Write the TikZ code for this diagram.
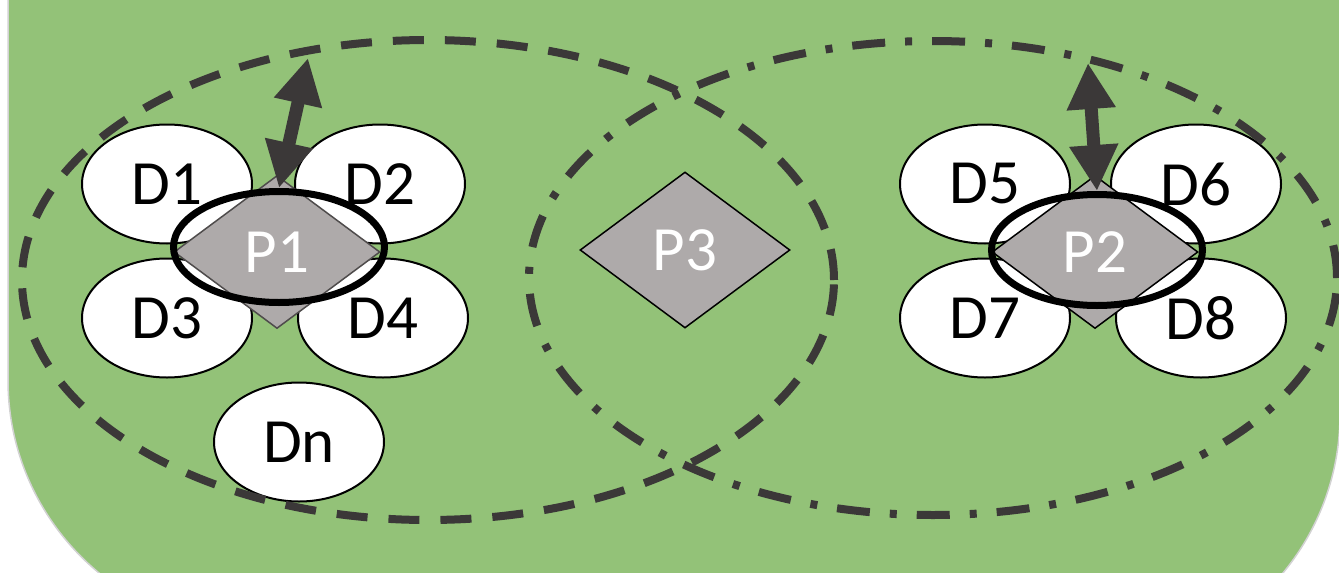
\documentclass[tikz,border=0pt]{standalone}
\usepackage{fontspec}
\setmainfont{Carlito}
\usetikzlibrary{shapes.geometric}
\usetikzlibrary{arrows.meta}

\definecolor{bggreen}{RGB}{147,194,120}
\definecolor{edgegray}{RGB}{59,56,56}
\definecolor{pgray}{RGB}{174,170,170}

\begin{document}
\begin{tikzpicture}[x=1pt,y=-1pt,>/.tip={Triangle[length=46pt,width=46pt]},
	dev/.style={draw,shape=ellipse,fill=white,line width=2pt,minimum width=170pt,minimum height=119pt,inner sep=0pt,font=\fontsize{63pt}{75pt}\selectfont},
	proc/.style={draw,shape=diamond,fill=pgray,line width=1.5pt,minimum width=206pt,minimum height=153pt,inner sep=0pt,text=white,font=\fontsize{63pt}{75pt}\selectfont},
	ring/.style={draw,shape=ellipse,line width=7pt,minimum width=211pt,minimum height=111pt,inner sep=0pt},
	link/.style={<->,line width=13pt,draw=edgegray,fill=edgegray},
	zone/.style={draw=edgegray,line width=8pt}]
	\useasboundingbox (0,0) rectangle (1339,573);
	% background
	\path[fill=bggreen,draw=gray!35,line width=1.5pt] (8,-20) -- (8,380) arc[start angle=180,end angle=270,radius=250pt]
		-- (1090,664) arc[start angle=270,end angle=360,radius=250pt] -- (1340,-20) -- cycle;

	% left group
	\node (d1) [dev] at (167,184) {D1};
	\node (d2) [dev] at (380,184) {D2};
	\node (d3) [dev] at (167,318) {D3};
	\node (d4) [dev] at (383,318) {D4};
	\node (dn) [dev] at (299,442) {Dn};
	\node (p1) [proc,draw=edgegray!90] at (277,252) {P1};
	\node (ring1) [ring] at (279,247) {};

	% middle
	\node (p3) [proc,draw=black,minimum width=210pt,minimum height=156pt] at (685,250) {P3};

	% right group
	\node (d5) [dev] at (985,184) {D5};
	\node (d6) [dev] at (1196,184) {D6};
	\node (d7) [dev] at (985,318) {D7};
	\node (d8) [dev] at (1201,318) {D8};
	\node (p2) [proc,draw=black] at (1095,252) {P2};
	\node (ring2) [ring] at (1097,250) {};

	% ranges
	\draw[zone,dash pattern=on 31pt off 21pt] (428,280) ellipse [x radius=406pt,y radius=240pt];
	\draw[zone,dash pattern=on 33pt off 20pt on 7pt off 20pt] (933,278) ellipse [x radius=404pt,y radius=237pt];

	% links
	\coordinate (top1) at (308,58);
	\coordinate (top2) at (1088,63);
	\draw[link] (ring1.north) -- (top1);
	\draw[link] (ring2.north) -- (top2);
\end{tikzpicture}
\end{document}
